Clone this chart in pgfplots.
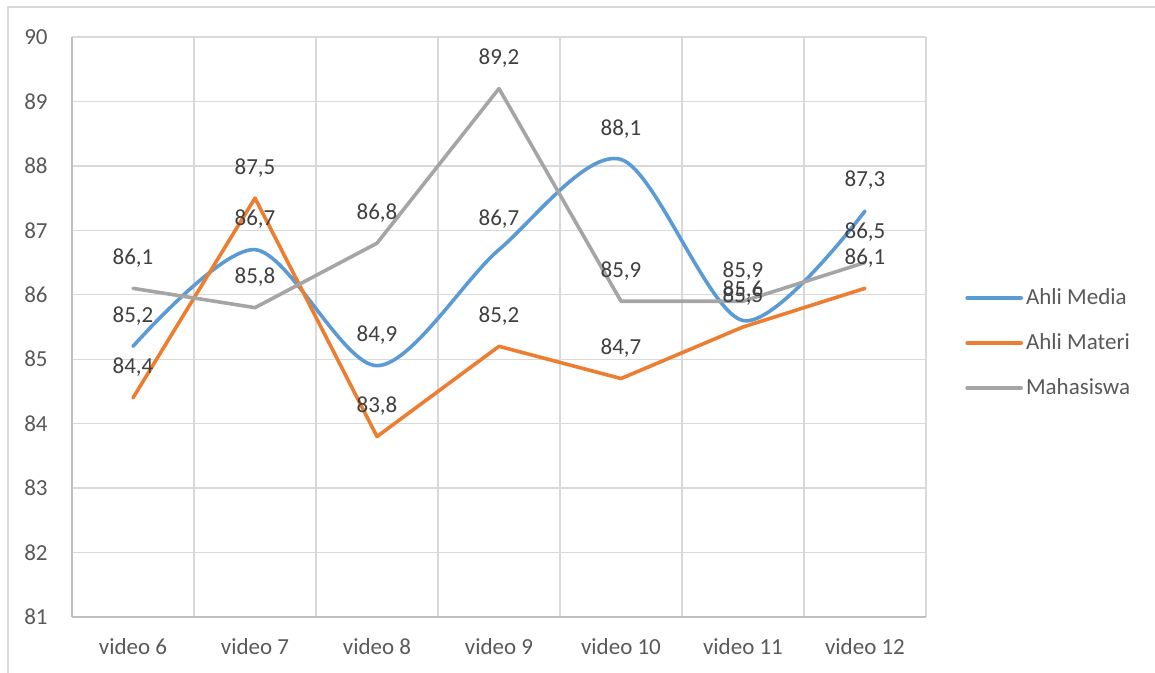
\documentclass[border=0pt]{standalone}
\usepackage{fontspec}
\setmainfont{Carlito}
\usepackage{pgfplots}
\pgfplotsset{compat=1.18}

\definecolor{media}{HTML}{5B9BD5}
\definecolor{materi}{HTML}{ED7D31}
\definecolor{mhs}{HTML}{A5A5A5}
\definecolor{gridc}{HTML}{D9D9D9}
\definecolor{axisc}{HTML}{BFBFBF}
\definecolor{tickc}{HTML}{595959}
\definecolor{labc}{HTML}{404040}

\begin{document}
\begin{tikzpicture}[font=\fontsize{11.5}{13}\selectfont]
\begin{axis}[
  scale only axis,
  width=427pt, height=290pt,
  xmin=-0.5, xmax=6.5, ymin=81, ymax=90,
  xtick={0,...,6},
  xticklabels={video 6,video 7,video 8,video 9,video 10,video 11,video 12},
  ytick={81,...,90},
  minor xtick={-0.5,0.5,...,6.5},
  xminorgrids=true, ymajorgrids=true,
  grid style={draw=gridc, line width=0.7pt},
  minor grid style={draw=gridc, line width=0.7pt},
  major grid style={draw=gridc, line width=0.7pt},
  extra x ticks={-0.5}, extra x tick labels={},
  extra x tick style={xmajorgrids=true, major grid style={draw=axisc, line width=0.8pt}},
  extra y ticks={81}, extra y tick labels={},
  extra y tick style={ymajorgrids=true, major grid style={draw=axisc, line width=0.8pt}},
  axis line style={draw=none},
  major tick length=0pt, minor tick length=0pt,
  tick label style={text=tickc},
  yticklabel style={anchor=east, inner sep=0pt, xshift=-12pt},
  xticklabel style={anchor=base, inner sep=0pt, yshift=-19pt},
  /pgf/number format/assume math mode=true,
  nodes near coords={\pgfmathprintnumber[fixed,fixed zerofill,precision=1,use comma,assume math mode=true]{\pgfplotspointmeta}},
  every node near coord/.append style={anchor=base, inner sep=0pt, yshift=12pt, text=labc},
  legend style={draw=none, fill=none, inner sep=0pt, at={(1.0457,0.4724)}, anchor=west,
    nodes={inner sep=0pt, text=tickc}, row sep=13pt, column sep=1.5pt},
  legend cell align=left,
  legend image code/.code={\draw[#1] (0pt,0pt) -- (27pt,0pt);},
  every axis plot/.append style={line width=1.8pt, line cap=round, line join=round},
]
\addplot[media, smooth, tension=0.5] coordinates
  {(0,85.2)(1,86.7)(2,84.9)(3,86.7)(4,88.1)(5,85.6)(6,87.3)};
\addlegendentry{Ahli Media}
\addplot[materi] coordinates
  {(0,84.4)(1,87.5)(2,83.8)(3,85.2)(4,84.7)(5,85.5)(6,86.1)};
\addlegendentry{Ahli Materi}
\addplot[mhs] coordinates
  {(0,86.1)(1,85.8)(2,86.8)(3,89.2)(4,85.9)(5,85.9)(6,86.5)};
\addlegendentry{Mahasiswa}
\coordinate (SW) at (rel axis cs:0,0);
\end{axis}
\useasboundingbox (SW) ++(-36pt,308.5pt) rectangle ++(577.5pt,-336.5pt);
\draw[gridc, line width=0.7pt] (SW) ++(-32pt,-28pt) -- ++(0,333pt) -- ++(573.5pt,0);
\end{tikzpicture}
\end{document}
